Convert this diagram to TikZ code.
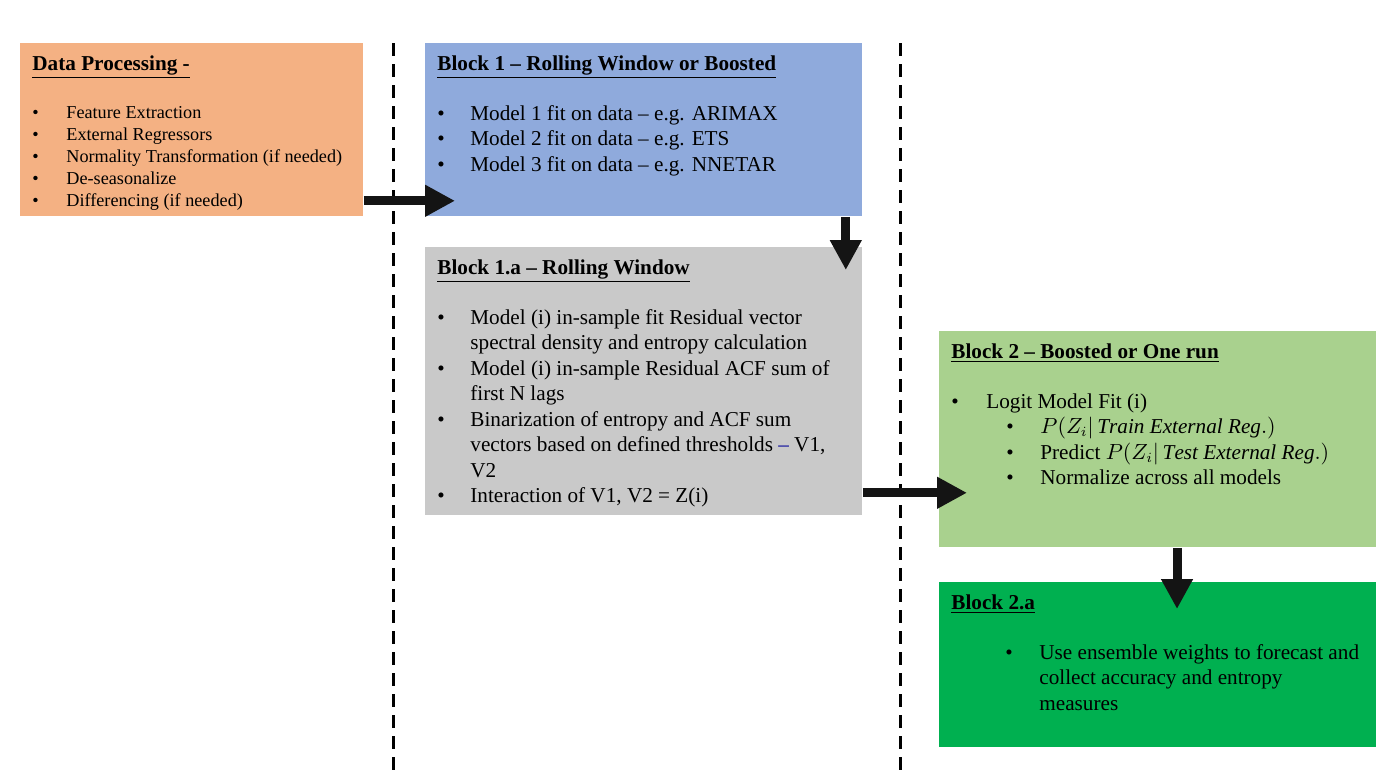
\documentclass[tikz,border=0pt]{standalone}
\usepackage{fontspec}
\setmainfont{Liberation Serif}
\usepackage{amsmath}
\usetikzlibrary{arrows.meta}
\definecolor{dpfill}{RGB}{244,177,131}
\definecolor{bonefill}{RGB}{143,170,220}
\definecolor{boneafill}{RGB}{201,201,201}
\definecolor{btwofill}{RGB}{169,209,142}
\definecolor{btwoafill}{RGB}{0,176,80}
\newcommand{\bul}[1][16.5pt]{\makebox[#1][l]{\textbullet}}
\newcommand{\blktitle}[1]{{\fontsize{10.6}{12.75}\selectfont\bfseries\underline{#1}}}

\begin{document}
\begin{tikzpicture}[x=0.5pt, y=-0.5pt,
		box/.style={anchor=north west, inner sep=0pt, draw=none},
		txt/.style={anchor=north west, inner sep=0pt, align=left, font=\fontsize{10.6}{12.75}\selectfont},
		arr/.style={line width=4.5pt, black!92, -{Triangle[length=15pt, width=15pt]}},
		sepline/.style={line width=1.5pt, dash pattern=on 6.5pt off 4pt}]
		\useasboundingbox (0,0) rectangle (1400,777);
		% separators
		\draw[sepline] (393,43) -- (393,777);
		\draw[sepline] (900,43) -- (900,777);
		% boxes
		\node[box, fill=dpfill, minimum width=171.5pt, minimum height=86.5pt] (dp) at (20,43) {};
		\node[box, fill=bonefill, minimum width=218.5pt, minimum height=86.5pt] (b1) at (425,43) {};
		\node[box, fill=boneafill, minimum width=218.5pt, minimum height=134pt] (b1a) at (425,247) {};
		\node[box, fill=btwofill, minimum width=218.5pt, minimum height=108pt] (b2) at (939,331) {};
		\node[box, fill=btwoafill, minimum width=218.5pt, minimum height=82.5pt] (b2a) at (939,582) {};
		% texts
		\node[txt, font=\fontsize{9.1}{11}\selectfont] (dptxt) at ([xshift=6pt, yshift=-6pt]dp.north west) {%
			\blktitle{Data Processing -}\\[13pt]
			\bul[17pt]Feature Extraction\\
			\bul[17pt]External Regressors\\
			\bul[17pt]Normality Transformation (if needed)\\
			\bul[17pt]De-seasonalize\\
			\bul[17pt]Differencing (if needed)};
		\node[txt] (b1txt) at ([xshift=6pt, yshift=-6pt]b1.north west) {%
			\blktitle{Block 1 – Rolling Window or Boosted}\\[12.25pt]
			\bul Model 1 fit on data – e.g. ARIMAX\\
			\bul Model 2 fit on data – e.g. ETS\\
			\bul Model 3 fit on data – e.g. NNETAR};
		\node[txt] (b1atxt) at ([xshift=6pt, yshift=-6pt]b1a.north west) {%
			\blktitle{Block 1.a – Rolling Window}\\[12.25pt]
			\bul Model (i) in-sample fit Residual vector\\
			\hspace*{16.5pt}spectral density and entropy calculation\\
			\bul Model (i) in-sample Residual ACF sum of\\
			\hspace*{16.5pt}first N lags\\
			\bul Binarization of entropy and ACF sum\\
			\hspace*{16.5pt}vectors based on defined thresholds {\color{blue!60!black}–} V1,\\
			\hspace*{16.5pt}V2\\
			\bul Interaction of V1, V2 = Z(i)};
		\node[txt] (b2txt) at ([xshift=6pt, yshift=-6pt]b2.north west) {%
			\blktitle{Block 2 – Boosted or One run}\\[12.25pt]
			\bul[17.5pt]Logit Model Fit (i)\\
			\hspace*{27.5pt}\bul[17pt]$P(Z_i|\,\mathit{Train\ External\ Reg.})$\\
			\hspace*{27.5pt}\bul[17pt]Predict $P(Z_i|\,\mathit{Test\ External\ Reg.})$\\
			\hspace*{27.5pt}\bul[17pt]Normalize across all models};
		\node[txt] (b2atxt) at ([xshift=6pt, yshift=-6pt]b2a.north west) {%
			\blktitle{Block 2.a}\\[12.25pt]
			\hspace*{27pt}\bul[17pt]Use ensemble weights to forecast and\\
			\hspace*{44pt}collect accuracy and entropy\\
			\hspace*{44pt}measures};
		% arrows
		\draw[arr] ([yshift=8pt]dp.south east) -- ([xshift=15pt, yshift=8pt]b1.south west);
		\draw[arr] ([xshift=-8.5pt]b1.south east) -- ([xshift=-8.5pt, yshift=-11.5pt]b1a.north east);
		\draw[arr] ([yshift=11.5pt]b1a.south east) coordinate (p) -- ([xshift=14pt]b2.west |- p);
		\draw[arr] ([xshift=119pt]b2.south west) -- ([xshift=119pt, yshift=-13.5pt]b2a.north west);
	\end{tikzpicture}
\end{document}
